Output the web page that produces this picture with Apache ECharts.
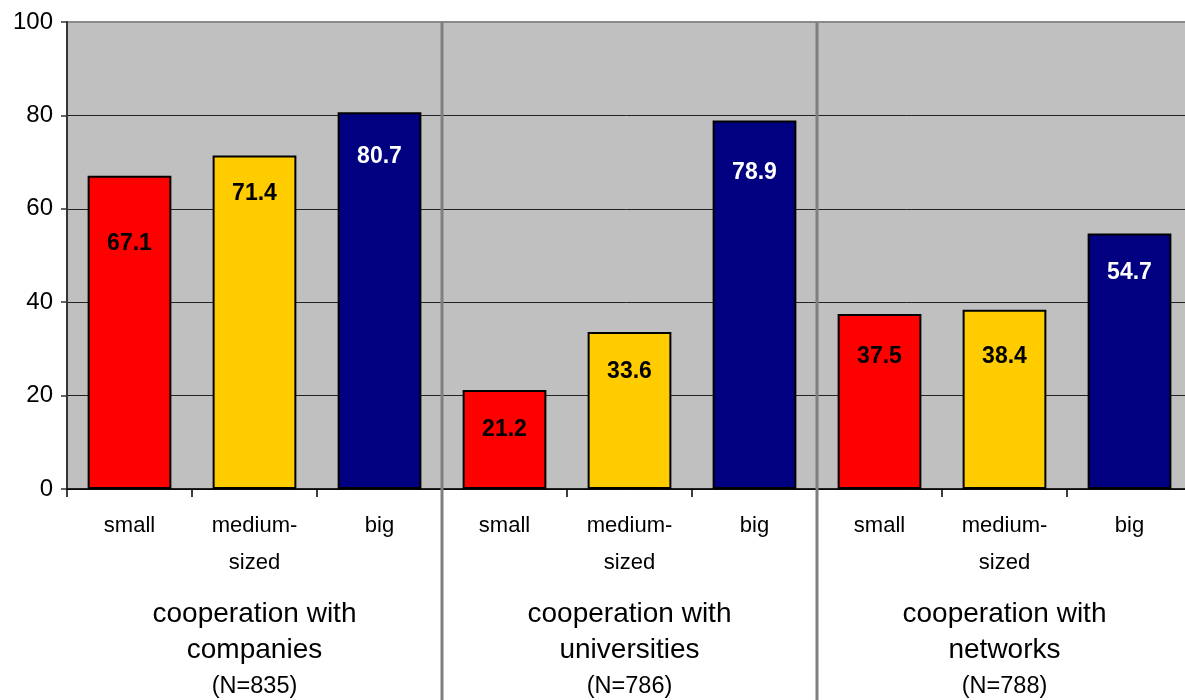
<!DOCTYPE html>
<html>
<head>
<meta charset="utf-8">
<script src="https://cdn.jsdelivr.net/npm/echarts@6/dist/echarts.min.js"></script>
<style>
  html, body { margin: 0; padding: 0; background: #fff; }
  #chart { width: 1185px; height: 700px; }
</style>
</head>
<body>
<div id="chart"></div>
<script>
// Share of firms cooperating, by firm size, for three kinds of partner
const sizeLabels = ['small', 'medium-\nsized', 'big'];
const groupTitle = 'cooperation with';
const groupNames = ['companies', 'universities', 'networks'];
const groupN = [835, 786, 788];
const companies = [67.1, 71.4, 80.7];
const universities = [21.2, 33.6, 78.9];
const networks = [37.5, 38.4, 54.7];
const yTicks = { min: 0, max: 100, interval: 20 };

const sizeColors = ['#FF0000', '#FFCC00', '#000080'];
const labelColors = ['#000000', '#000000', '#FFFFFF'];
// extra drop of the value label below the bar top, per bar
const labelDrop = [57, 27, 33, 28, 28, 41, 31, 35, 28];

const groups = [companies, universities, networks];
const categories = [];
const barData = [];
groups.forEach((vals, g) => {
  vals.forEach((v, s) => {
    const i = categories.length;
    categories.push(sizeLabels[s] + '#' + g);
    barData.push({
      value: v,
      itemStyle: { color: sizeColors[s] },
      label: { color: labelColors[s], distance: labelDrop[i] }
    });
  });
});

const font = '"Liberation Sans", Arial, sans-serif';
const chart = echarts.init(document.getElementById('chart'), null, { renderer: 'canvas' });

const option = {
  animation: false,
  grid: {
    left: 67, top: 22, width: 1125, height: 467,
    outerBoundsMode: 'none', containLabel: false,
    show: true, backgroundColor: '#C0C0C0',
    borderColor: '#8A8A8A', borderWidth: 2
  },
  xAxis: [
    {
      type: 'category',
      data: categories,
      axisLine: { lineStyle: { color: '#000', width: 1.5 } },
      axisTick: { show: true, length: 8, lineStyle: { color: '#000', width: 1.5 } },
      axisLabel: {
        interval: 0, margin: 18, color: '#000',
        fontFamily: font, fontSize: 22, lineHeight: 37,
        formatter: v => v.split('#')[0]
      }
    },
    {
      type: 'category',
      position: 'bottom',
      data: groupNames.map((n, i) => groupTitle + '\n' + n + '\n(N=' + groupN[i] + ')'),
      axisLine: { show: false },
      axisTick: { show: false },
      axisLabel: {
        interval: 0, margin: 107, color: '#000',
        formatter: v => {
          const p = v.split('\n');
          return '{t|' + p[0] + '}\n{t|' + p[1] + '}\n{n|' + p[2] + '}';
        },
        rich: {
          t: { fontFamily: font, fontSize: 28, lineHeight: 36, color: '#000' },
          n: { fontFamily: font, fontSize: 23.5, lineHeight: 38, color: '#000' }
        }
      }
    }
  ],
  yAxis: {
    type: 'value',
    min: yTicks.min, max: yTicks.max, interval: yTicks.interval,
    axisLine: { show: true, lineStyle: { color: '#333', width: 2 } },
    axisTick: { show: true, length: 6, lineStyle: { color: '#333', width: 1.5 } },
    axisLabel: { color: '#000', fontFamily: font, fontSize: 24, margin: 14 },
    splitLine: {
      show: true,
      lineStyle: { color: ['#222', '#222', '#222', '#222', '#222', '#8A8A8A'], width: 1 }
    }
  },
  series: [{
    type: 'bar',
    xAxisIndex: 0,
    data: barData,
    barWidth: '67%',
    itemStyle: { borderColor: '#000', borderWidth: 2 },
    label: {
      show: true, position: 'insideTop',
      fontFamily: font, fontSize: 23, fontWeight: 'bold',
      formatter: p => p.value.toFixed(1)
    }
  }]
};

chart.setOption(option);

// Gray separators between the three partner groups, reaching down through the labels
const sepLines = [];
for (let g = 1; g < groups.length; g++) {
  const idx = g * sizeLabels.length;
  const a = chart.convertToPixel({ xAxisIndex: 0 }, categories[idx - 1]);
  const b = chart.convertToPixel({ xAxisIndex: 0 }, categories[idx]);
  const x = Math.round((a + b) / 2);
  const yTop = chart.convertToPixel({ yAxisIndex: 0 }, yTicks.max);
  sepLines.push({
    type: 'line', z: 100,
    shape: { x1: x, y1: yTop, x2: x, y2: 700 },
    style: { stroke: '#7F7F7F', lineWidth: 3 }
  });
}
chart.setOption({ graphic: sepLines });
</script>
</body>
</html>
